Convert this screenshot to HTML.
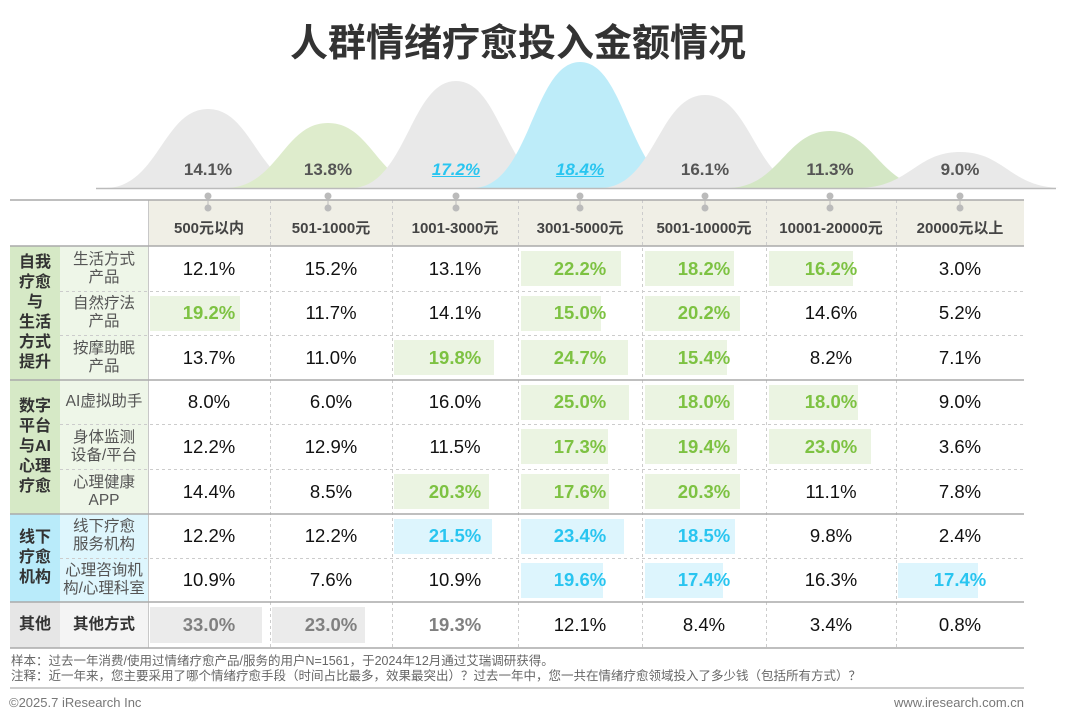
<!DOCTYPE html>
<html><head><meta charset="utf-8"><style>
*{margin:0;padding:0;box-sizing:border-box}
body{width:1080px;height:720px;background:#fff;position:relative;overflow:hidden;font-family:"Liberation Sans","Noto Sans CJK SC",sans-serif}
.a{position:absolute}
.t{position:absolute;display:flex;align-items:center;justify-content:center;text-align:center}
.v{font-size:18.5px;color:#111}
.g{color:#7dc242;font-weight:bold}
.b{color:#29c5f0;font-weight:bold}
.r{color:#808080;font-weight:bold}
.bg{background:#ebf4e2}
.bb{background:#ddf5fd}
.br{background:#ebebeb}
.h{font-size:15px;font-weight:bold;color:#444}
.cat{font-size:16px;font-weight:bold;color:#333;line-height:20px}
.sub{font-size:15.5px;color:#555;line-height:18px}
.pk{font-size:17px;font-weight:bold;color:#555}
</style></head><body>
<div class="t" style="left:0;top:14px;width:1036px;height:50px;font-size:38px;font-weight:bold;color:#333">人群情绪疗愈投入金额情况</div>
<svg class="a" style="left:0;top:0" width="1080" height="720">
<g opacity="0.75">
<path d="M105,188 C158,188 163,109 208,109 C253,109 258,188 311,188Z" fill="#e2e2e2"/>
<path d="M225,188 C278,188 283,123 328,123 C373,123 378,188 431,188Z" fill="#d3e6bb"/>
<path d="M351,188 C406,188 410,81 456,81 C502,81 506,188 561,188Z" fill="#e2e2e2"/>
<path d="M473,188 C530,188 533,62 580,62 C627,62 630,188 687,188Z" fill="#a8e6f8"/>
<path d="M600,188 C655,188 658,95 705,95 C752,95 755,188 810,188Z" fill="#e2e2e2"/>
<path d="M727,188 C780,188 785,131 830,131 C875,131 880,188 933,188Z" fill="#c6dfb2"/>
<path d="M857,188 C910,188 915,152 960,152 C1005,152 1010,188 1063,188Z" fill="#e2e2e2"/>
</g>
<line x1="96" y1="188.5" x2="1056" y2="188.5" stroke="#bbb" stroke-width="1.5"/>
<rect x="148" y="200" width="876" height="46" fill="#f0efe6"/>
<rect x="10" y="246" width="50" height="134" fill="#d6e9c6"/><rect x="60" y="246" width="88" height="134" fill="#eef6e8"/>
<rect x="10" y="380" width="50" height="134" fill="#d6e9c6"/><rect x="60" y="380" width="88" height="134" fill="#eef6e8"/>
<rect x="10" y="514" width="50" height="88" fill="#b9ebfa"/><rect x="60" y="514" width="88" height="88" fill="#def6fd"/>
<rect x="10" y="602" width="50" height="46" fill="#e6e6e6"/><rect x="60" y="602" width="88" height="46" fill="#f4f4f4"/>
</svg>
<!-- bars -->
<div class="a bg" style="left:521px;top:251px;width:100px;height:35px"></div>
<div class="a bg" style="left:645px;top:251px;width:89px;height:35px"></div>
<div class="a bg" style="left:769px;top:251px;width:84px;height:35px"></div>
<div class="a bg" style="left:150px;top:296px;width:90px;height:35px"></div>
<div class="a bg" style="left:521px;top:296px;width:80px;height:35px"></div>
<div class="a bg" style="left:645px;top:296px;width:95px;height:35px"></div>
<div class="a bg" style="left:394px;top:340px;width:100px;height:35px"></div>
<div class="a bg" style="left:521px;top:340px;width:107px;height:35px"></div>
<div class="a bg" style="left:645px;top:340px;width:82px;height:35px"></div>
<div class="a bg" style="left:521px;top:385px;width:108px;height:35px"></div>
<div class="a bg" style="left:645px;top:385px;width:89px;height:35px"></div>
<div class="a bg" style="left:769px;top:385px;width:89px;height:35px"></div>
<div class="a bg" style="left:521px;top:429px;width:87px;height:35px"></div>
<div class="a bg" style="left:645px;top:429px;width:92px;height:35px"></div>
<div class="a bg" style="left:769px;top:429px;width:102px;height:35px"></div>
<div class="a bg" style="left:394px;top:474px;width:95px;height:35px"></div>
<div class="a bg" style="left:521px;top:474px;width:88px;height:35px"></div>
<div class="a bg" style="left:645px;top:474px;width:95px;height:35px"></div>
<div class="a bb" style="left:394px;top:519px;width:98px;height:35px"></div>
<div class="a bb" style="left:521px;top:519px;width:103px;height:35px"></div>
<div class="a bb" style="left:645px;top:519px;width:90px;height:35px"></div>
<div class="a bb" style="left:521px;top:563px;width:82px;height:35px"></div>
<div class="a bb" style="left:645px;top:563px;width:78px;height:35px"></div>
<div class="a bb" style="left:898px;top:563px;width:80px;height:35px"></div>
<div class="a br" style="left:150px;top:607px;width:112px;height:36px"></div>
<div class="a br" style="left:272px;top:607px;width:93px;height:36px"></div>
<svg class="a" style="left:0;top:0" width="1080" height="720">
<g stroke="#ccc" stroke-dasharray="3,3" stroke-width="1">
<line x1="148.5" y1="200" x2="148.5" y2="648" stroke="#c8c8c8" stroke-dasharray="none"/>
<line x1="270.5" y1="200" x2="270.5" y2="648"/><line x1="392.5" y1="200" x2="392.5" y2="648"/>
<line x1="518.5" y1="200" x2="518.5" y2="648"/><line x1="642.5" y1="200" x2="642.5" y2="648"/>
<line x1="766.5" y1="200" x2="766.5" y2="648"/><line x1="896.5" y1="200" x2="896.5" y2="648"/>
<line x1="60" y1="291.5" x2="1024" y2="291.5"/><line x1="60" y1="335.5" x2="1024" y2="335.5"/>
<line x1="60" y1="424.5" x2="1024" y2="424.5"/><line x1="60" y1="469.5" x2="1024" y2="469.5"/>
<line x1="60" y1="558.5" x2="1024" y2="558.5"/>
</g>
<g stroke="#aaa" stroke-width="1.5">
<line x1="10" y1="200" x2="1024" y2="200"/><line x1="10" y1="246" x2="1024" y2="246"/>
<line x1="10" y1="380" x2="1024" y2="380"/><line x1="10" y1="514" x2="1024" y2="514"/>
<line x1="10" y1="602" x2="1024" y2="602"/><line x1="10" y1="648" x2="1024" y2="648"/>
<line x1="10" y1="688" x2="1024" y2="688" stroke="#999" stroke-width="1"/>
</g>
<g stroke="#bbb" fill="#bbb">
<line x1="208" y1="196" x2="208" y2="208"/><circle cx="208" cy="196" r="3"/><circle cx="208" cy="208" r="3"/>
<line x1="328" y1="196" x2="328" y2="208"/><circle cx="328" cy="196" r="3"/><circle cx="328" cy="208" r="3"/>
<line x1="456" y1="196" x2="456" y2="208"/><circle cx="456" cy="196" r="3"/><circle cx="456" cy="208" r="3"/>
<line x1="580" y1="196" x2="580" y2="208"/><circle cx="580" cy="196" r="3"/><circle cx="580" cy="208" r="3"/>
<line x1="705" y1="196" x2="705" y2="208"/><circle cx="705" cy="196" r="3"/><circle cx="705" cy="208" r="3"/>
<line x1="830" y1="196" x2="830" y2="208"/><circle cx="830" cy="196" r="3"/><circle cx="830" cy="208" r="3"/>
<line x1="960" y1="196" x2="960" y2="208"/><circle cx="960" cy="196" r="3"/><circle cx="960" cy="208" r="3"/>
</g>
</svg>
<!-- peak labels -->
<div class="t pk" style="left:158px;top:158px;width:100px;height:24px">14.1%</div>
<div class="t pk" style="left:278px;top:158px;width:100px;height:24px">13.8%</div>
<div class="t pk" style="left:406px;top:158px;width:100px;height:24px;color:#29c5f0;font-style:italic;text-decoration:underline">17.2%</div>
<div class="t pk" style="left:530px;top:158px;width:100px;height:24px;color:#29c5f0;font-style:italic;text-decoration:underline">18.4%</div>
<div class="t pk" style="left:655px;top:158px;width:100px;height:24px">16.1%</div>
<div class="t pk" style="left:780px;top:158px;width:100px;height:24px">11.3%</div>
<div class="t pk" style="left:910px;top:158px;width:100px;height:24px">9.0%</div>
<!-- headers -->
<div class="t h" style="left:148px;top:212px;width:122px;height:30px">500元以内</div>
<div class="t h" style="left:270px;top:212px;width:122px;height:30px">501-1000元</div>
<div class="t h" style="left:392px;top:212px;width:126px;height:30px">1001-3000元</div>
<div class="t h" style="left:518px;top:212px;width:124px;height:30px">3001-5000元</div>
<div class="t h" style="left:642px;top:212px;width:124px;height:30px">5001-10000元</div>
<div class="t h" style="left:766px;top:212px;width:130px;height:30px">10001-20000元</div>
<div class="t h" style="left:896px;top:212px;width:128px;height:30px">20000元以上</div>
<!-- categories -->
<div class="t cat" style="left:10px;top:246px;width:50px;height:134px">自我<br>疗愈<br>与<br>生活<br>方式<br>提升</div>
<div class="t cat" style="left:10px;top:380px;width:50px;height:134px">数字<br>平台<br>与AI<br>心理<br>疗愈</div>
<div class="t cat" style="left:10px;top:514px;width:50px;height:88px">线下<br>疗愈<br>机构</div>
<div class="t cat" style="left:10px;top:602px;width:50px;height:46px">其他</div>
<div class="t sub" style="left:60px;top:246px;width:88px;height:45px">生活方式<br>产品</div>
<div class="t sub" style="left:60px;top:291px;width:88px;height:44px">自然疗法<br>产品</div>
<div class="t sub" style="left:60px;top:335px;width:88px;height:45px">按摩助眠<br>产品</div>
<div class="t sub" style="left:60px;top:380px;width:88px;height:44px">AI虚拟助手</div>
<div class="t sub" style="left:60px;top:424px;width:88px;height:45px">身体监测<br>设备/平台</div>
<div class="t sub" style="left:60px;top:469px;width:88px;height:45px">心理健康<br>APP</div>
<div class="t sub" style="left:60px;top:514px;width:88px;height:44px">线下疗愈<br>服务机构</div>
<div class="t sub" style="left:60px;top:558px;width:88px;height:44px">心理咨询机<br>构/心理科室</div>
<div class="t sub" style="left:60px;top:602px;width:88px;height:46px;font-weight:bold;color:#333">其他方式</div>
<!-- values -->
<div class="t v" style="left:148px;top:246px;width:122px;height:45px">12.1%</div>
<div class="t v" style="left:270px;top:246px;width:122px;height:45px">15.2%</div>
<div class="t v" style="left:392px;top:246px;width:126px;height:45px">13.1%</div>
<div class="t v g" style="left:518px;top:246px;width:124px;height:45px">22.2%</div>
<div class="t v g" style="left:642px;top:246px;width:124px;height:45px">18.2%</div>
<div class="t v g" style="left:766px;top:246px;width:130px;height:45px">16.2%</div>
<div class="t v" style="left:896px;top:246px;width:128px;height:45px">3.0%</div>

<div class="t v g" style="left:148px;top:291px;width:122px;height:44px">19.2%</div>
<div class="t v" style="left:270px;top:291px;width:122px;height:44px">11.7%</div>
<div class="t v" style="left:392px;top:291px;width:126px;height:44px">14.1%</div>
<div class="t v g" style="left:518px;top:291px;width:124px;height:44px">15.0%</div>
<div class="t v g" style="left:642px;top:291px;width:124px;height:44px">20.2%</div>
<div class="t v" style="left:766px;top:291px;width:130px;height:44px">14.6%</div>
<div class="t v" style="left:896px;top:291px;width:128px;height:44px">5.2%</div>

<div class="t v" style="left:148px;top:335px;width:122px;height:45px">13.7%</div>
<div class="t v" style="left:270px;top:335px;width:122px;height:45px">11.0%</div>
<div class="t v g" style="left:392px;top:335px;width:126px;height:45px">19.8%</div>
<div class="t v g" style="left:518px;top:335px;width:124px;height:45px">24.7%</div>
<div class="t v g" style="left:642px;top:335px;width:124px;height:45px">15.4%</div>
<div class="t v" style="left:766px;top:335px;width:130px;height:45px">8.2%</div>
<div class="t v" style="left:896px;top:335px;width:128px;height:45px">7.1%</div>

<div class="t v" style="left:148px;top:380px;width:122px;height:44px">8.0%</div>
<div class="t v" style="left:270px;top:380px;width:122px;height:44px">6.0%</div>
<div class="t v" style="left:392px;top:380px;width:126px;height:44px">16.0%</div>
<div class="t v g" style="left:518px;top:380px;width:124px;height:44px">25.0%</div>
<div class="t v g" style="left:642px;top:380px;width:124px;height:44px">18.0%</div>
<div class="t v g" style="left:766px;top:380px;width:130px;height:44px">18.0%</div>
<div class="t v" style="left:896px;top:380px;width:128px;height:44px">9.0%</div>

<div class="t v" style="left:148px;top:424px;width:122px;height:45px">12.2%</div>
<div class="t v" style="left:270px;top:424px;width:122px;height:45px">12.9%</div>
<div class="t v" style="left:392px;top:424px;width:126px;height:45px">11.5%</div>
<div class="t v g" style="left:518px;top:424px;width:124px;height:45px">17.3%</div>
<div class="t v g" style="left:642px;top:424px;width:124px;height:45px">19.4%</div>
<div class="t v g" style="left:766px;top:424px;width:130px;height:45px">23.0%</div>
<div class="t v" style="left:896px;top:424px;width:128px;height:45px">3.6%</div>

<div class="t v" style="left:148px;top:469px;width:122px;height:45px">14.4%</div>
<div class="t v" style="left:270px;top:469px;width:122px;height:45px">8.5%</div>
<div class="t v g" style="left:392px;top:469px;width:126px;height:45px">20.3%</div>
<div class="t v g" style="left:518px;top:469px;width:124px;height:45px">17.6%</div>
<div class="t v g" style="left:642px;top:469px;width:124px;height:45px">20.3%</div>
<div class="t v" style="left:766px;top:469px;width:130px;height:45px">11.1%</div>
<div class="t v" style="left:896px;top:469px;width:128px;height:45px">7.8%</div>

<div class="t v" style="left:148px;top:514px;width:122px;height:44px">12.2%</div>
<div class="t v" style="left:270px;top:514px;width:122px;height:44px">12.2%</div>
<div class="t v b" style="left:392px;top:514px;width:126px;height:44px">21.5%</div>
<div class="t v b" style="left:518px;top:514px;width:124px;height:44px">23.4%</div>
<div class="t v b" style="left:642px;top:514px;width:124px;height:44px">18.5%</div>
<div class="t v" style="left:766px;top:514px;width:130px;height:44px">9.8%</div>
<div class="t v" style="left:896px;top:514px;width:128px;height:44px">2.4%</div>

<div class="t v" style="left:148px;top:558px;width:122px;height:44px">10.9%</div>
<div class="t v" style="left:270px;top:558px;width:122px;height:44px">7.6%</div>
<div class="t v" style="left:392px;top:558px;width:126px;height:44px">10.9%</div>
<div class="t v b" style="left:518px;top:558px;width:124px;height:44px">19.6%</div>
<div class="t v b" style="left:642px;top:558px;width:124px;height:44px">17.4%</div>
<div class="t v" style="left:766px;top:558px;width:130px;height:44px">16.3%</div>
<div class="t v b" style="left:896px;top:558px;width:128px;height:44px">17.4%</div>

<div class="t v r" style="left:148px;top:602px;width:122px;height:46px">33.0%</div>
<div class="t v r" style="left:270px;top:602px;width:122px;height:46px">23.0%</div>
<div class="t v r" style="left:392px;top:602px;width:126px;height:46px">19.3%</div>
<div class="t v" style="left:518px;top:602px;width:124px;height:46px">12.1%</div>
<div class="t v" style="left:642px;top:602px;width:124px;height:46px">8.4%</div>
<div class="t v" style="left:766px;top:602px;width:130px;height:46px">3.4%</div>
<div class="t v" style="left:896px;top:602px;width:128px;height:46px">0.8%</div>
<!-- footer -->
<div class="a" style="left:11px;top:654px;font-size:12.5px;color:#666;line-height:15px;white-space:nowrap">样本：过去一年消费/使用过情绪疗愈产品/服务的用户N=1561，于2024年12月通过艾瑞调研获得。<br>注释：近一年来，您主要采用了哪个情绪疗愈手段（时间占比最多，效果最突出）？过去一年中，您一共在情绪疗愈领域投入了多少钱（包括所有方式）？</div>
<div class="a" style="left:9px;top:695px;font-size:13px;color:#777">©2025.7 iResearch Inc</div>
<div class="a" style="left:850px;top:695px;width:174px;text-align:right;font-size:13px;color:#777">www.iresearch.com.cn</div>
</body></html>
